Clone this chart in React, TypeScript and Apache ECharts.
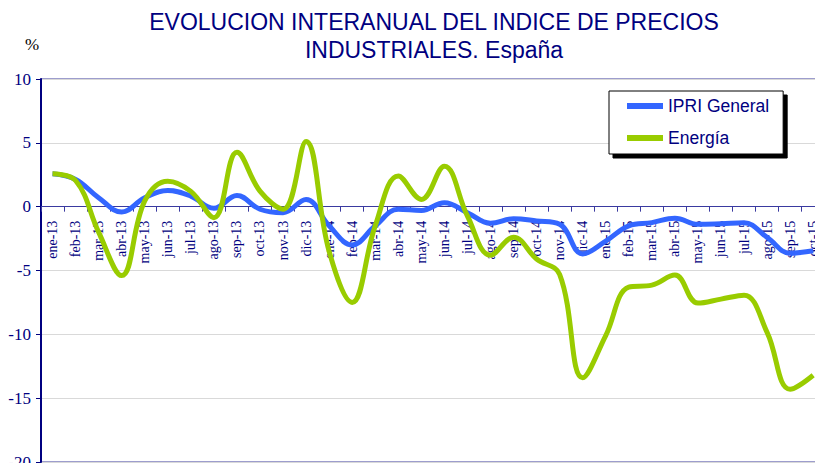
import React, { useEffect, useRef } from "react";
import * as echarts from "echarts";

const categories = [
  "ene-13", "feb-13", "mar-13", "abr-13", "may-13", "jun-13", "jul-13", "ago-13", "sep-13", "oct-13", "nov-13", "dic-13",
  "ene-14", "feb-14", "mar-14", "abr-14", "may-14", "jun-14", "jul-14", "ago-14", "sep-14", "oct-14", "nov-14", "dic-14",
  "ene-15", "feb-15", "mar-15", "abr-15", "may-15", "jun-15", "jul-15", "ago-15", "sep-15", "oct-15",
];

const ipriGeneral = [
  2.57, 2.13, 0.7, -0.42, 0.7, 1.27, 0.83, -0.13, 0.88, -0.2, -0.47, 0.57,
  -1.5, -3.0, -1.5, -0.2, -0.3, 0.31, -0.47, -1.3, -0.94, -1.12, -1.38, -3.7,
  -2.7, -1.5, -1.25, -0.9, -1.38, -1.33, -1.25, -2.4, -3.65, -3.46,
];

const energia = [
  2.57, 2.05, -2.0, -5.4, 0.45, 2.0, 1.2, -0.86, 4.26, 1.22, -0.2, 5.1,
  -3.5, -7.5, -1.5, 2.4, 0.57, 3.17, -0.73, -3.8, -2.4, -4.1, -5.3, -13.4,
  -10.1, -6.3, -6.15, -5.36, -7.55, -7.24, -6.93, -9.84, -14.3, -13.2,
];

const yTicks = { min: -20, max: 10, interval: 5 };

const NAVY = "#000080";
const SANS = "Liberation Sans";

const GRID_TOP = 79;
const GRID_HEIGHT = 383;
const ZERO_Y = GRID_TOP + (GRID_HEIGHT * yTicks.max) / (yTicks.max - yTicks.min);
const X_OFFSET = -(GRID_TOP + GRID_HEIGHT - ZERO_Y);

export default function App() {
  const ref = useRef<HTMLDivElement>(null);
  useEffect(() => {
    if (!ref.current) return;
    const chart = echarts.init(ref.current, null, { renderer: "svg" });
    chart.setOption({
      animation: false,
      backgroundColor: "#ffffff",
      graphic: [
        {
          type: "text",
          x: 434,
          y: 36,
          style: {
            text: "EVOLUCION INTERANUAL DEL INDICE DE PRECIOS\nINDUSTRIALES. España",
            fill: NAVY,
            fontFamily: SANS,
            fontSize: 23,
            textAlign: "center",
            textVerticalAlign: "middle",
            lineHeight: 28,
          },
        },
        {
          type: "text",
          x: 32,
          y: 44,
          style: {
            text: "%",
            fill: "#000000",
            fontFamily: "serif",
            fontSize: 17,
            textAlign: "center",
            textVerticalAlign: "middle",
          },
        },
      ],
      legend: {
        orient: "vertical",
        left: 609,
        top: 91,
        padding: [6, 14, 7, 18],
        itemWidth: 36,
        itemHeight: 6,
        itemGap: 14,
        icon: "rect",
        backgroundColor: "#ffffff",
        borderColor: "#000000",
        borderWidth: 1,
        shadowColor: "#000000",
        shadowOffsetX: 4,
        shadowOffsetY: 4,
        shadowBlur: 0,
        textStyle: { fontFamily: SANS, fontSize: 17.5, color: NAVY },
        data: ["IPRI General", "Energía"],
      },
      grid: {
        left: 41,
        top: GRID_TOP,
        width: 783.7,
        height: GRID_HEIGHT,
        show: true,
        borderColor: "#3a3a9a",
        borderWidth: 1,
        containLabel: false,
        outerBoundsMode: "none",
      },
      xAxis: {
        type: "category",
        data: categories,
        boundaryGap: true,
        position: "bottom",
        offset: X_OFFSET,
        axisLine: { onZero: false, lineStyle: { color: "#3a3aa0", width: 1 } },
        axisTick: { show: true, length: 5, lineStyle: { color: "#3a3aa0" } },
        axisLabel: {
          rotate: 90,
          interval: 0,
          margin: 14,
          fontFamily: "Liberation Serif",
          fontSize: 14,
          color: NAVY,
        },
        splitLine: { show: false },
      },
      yAxis: {
        type: "value",
        min: yTicks.min,
        max: yTicks.max,
        interval: yTicks.interval,
        axisLine: { show: true, lineStyle: { color: NAVY, width: 2 } },
        axisTick: { show: true, length: 5, lineStyle: { color: NAVY } },
        axisLabel: {
          margin: 10,
          fontFamily: "Times New Roman",
          fontSize: 17,
          color: NAVY,
        },
        splitLine: { show: true, lineStyle: { color: "#d9d9d9", width: 1 } },
      },
      series: [
        {
          name: "IPRI General",
          type: "line",
          data: ipriGeneral,
          smooth: 0.4,
          showSymbol: false,
          symbol: "none",
          color: "#3366ff",
          lineStyle: { color: "#3366ff", width: 5 },
        },
        {
          name: "Energía",
          type: "line",
          data: energia,
          smooth: 0.4,
          showSymbol: false,
          symbol: "none",
          color: "#99cc00",
          lineStyle: { color: "#99cc00", width: 5 },
        },
      ],
    });
    return () => chart.dispose();
  }, []);
  return (
    <div
      ref={ref}
      style={{ position: "fixed", left: 0, top: 0, width: 815, height: 463, background: "#fff" }}
    />
  );
}
